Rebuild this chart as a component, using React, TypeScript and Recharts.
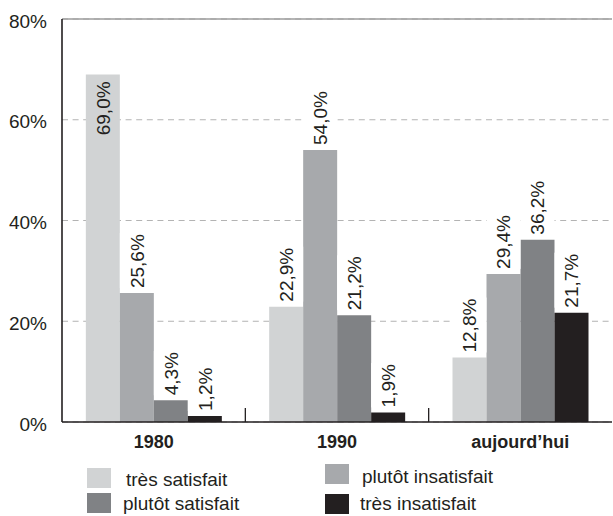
import React from 'react';
import { BarChart, Bar, XAxis, YAxis, CartesianGrid, ReferenceLine, LabelList } from 'recharts';

const categories = ['1980', '1990', 'aujourd’hui'];
const tresSatisfait = [69.0, 22.9, 12.8];
const plutotInsatisfait = [25.6, 54.0, 29.4];
const plutotSatisfait = [4.3, 21.2, 36.2];
const tresInsatisfait = [1.2, 1.9, 21.7];
const yTicks = [0, 20, 40, 60, 80];

const FONT = '"Liberation Sans", Arial, Helvetica, sans-serif';
const INK = '#231f20';

const series = [
  { key: 'tresSatisfait', name: 'très satisfait', color: '#d1d3d4' },
  { key: 'plutotInsatisfait', name: 'plutôt insatisfait', color: '#a7a9ac' },
  { key: 'plutotSatisfait', name: 'plutôt satisfait', color: '#808285' },
  { key: 'tresInsatisfait', name: 'très insatisfait', color: INK },
];

const data = categories.map((c, i) => ({
  category: c,
  tresSatisfait: tresSatisfait[i],
  plutotInsatisfait: plutotInsatisfait[i],
  plutotSatisfait: plutotSatisfait[i],
  tresInsatisfait: tresInsatisfait[i],
}));

const W = 613;
const H = 516;
const LEFT = 62;
const RIGHT_M = 1;
const BAND = (W - LEFT - RIGHT_M) / categories.length;

const fmt = (v: number) => v.toFixed(1).replace('.', ',') + '%';

const BarLabel = (props: any) => {
  const { x, y, width, value } = props;
  if (value == null) return null;
  const cx = Number(x) + Number(width) / 2;
  const v = Number(value);
  const inside = v > 65;
  const txt = fmt(v);
  const len = txt.length * 10.6;
  if (inside) {
    const ty = Number(y) + 7;
    return (
      <text
        transform={`translate(${cx},${ty}) rotate(-90)`}
        x={0}
        y={0}
        dy="0.36em"
        textAnchor="end"
        fontSize={19}
        fontFamily={FONT}
        fill={INK}
      >
        {txt}
      </text>
    );
  }
  const ty = Number(y) - 5;
  return (
    <g>
      <rect x={Number(x)} y={ty - len - 2} width={Number(width)} height={len + 2} fill="#ffffff" />
      <text
        transform={`translate(${cx},${ty}) rotate(-90)`}
        x={0}
        y={0}
        dy="0.36em"
        textAnchor="start"
        fontSize={19}
        fontFamily={FONT}
        fill={INK}
      >
        {txt}
      </text>
    </g>
  );
};

const XTick = (props: any) => {
  const { x, y, payload, index } = props;
  const axisY = Number(y) - 8;
  return (
    <g>
      {index > 0 && (
        <line x1={x - BAND / 2} x2={x - BAND / 2} y1={axisY - 14} y2={axisY} stroke={INK} strokeWidth={1.3} />
      )}
      <text x={x} y={y} dy={18} textAnchor="middle" fontSize={18} fontWeight="bold" fontFamily={FONT} fill={INK}>
        {payload.value}
      </text>
    </g>
  );
};

const YTick = (props: any) => {
  const { x, y, payload } = props;
  return (
    <text x={x} y={y} dy={8.7} textAnchor="end" fontSize={19} fontFamily={FONT} fill={INK}>
      {payload.value + '%'}
    </text>
  );
};

const legendItems = [
  { s: series[0], sx: 87, sy: 468, tx: 126, ty: 486 },
  { s: series[2], sx: 87, sy: 493, tx: 123, ty: 510 },
  { s: series[1], sx: 325, sy: 464, tx: 362, ty: 483 },
  { s: series[3], sx: 325, sy: 494, tx: 360, ty: 510 },
];

export default function App() {
  return (
    <div style={{ position: 'absolute', left: 0, top: 0, width: W, height: H, background: '#fff' }}>
      <BarChart
        width={W}
        height={H}
        data={data}
        margin={{ top: 19, right: RIGHT_M, bottom: 0, left: 0 }}
        barCategoryGap="13%"
        barGap={0}
      >
        <CartesianGrid vertical={false} stroke="#b3b3b3" strokeDasharray="6 4.6" />
        <ReferenceLine y={80} stroke="#9d9d9d" strokeWidth={1.6} />
        <XAxis
          dataKey="category"
          height={94}
          axisLine={{ stroke: INK, strokeWidth: 1.6 }}
          tickLine={false}
          tick={<XTick />}
          interval={0}
        />
        <YAxis
          width={LEFT}
          domain={[0, 80]}
          ticks={yTicks}
          axisLine={{ stroke: INK, strokeWidth: 1.6 }}
          tickLine={false}
          tickSize={6}
          tickMargin={9}
          tick={<YTick />}
        />
        {series.map((s) => (
          <Bar key={s.key} dataKey={s.key} name={s.name} fill={s.color} isAnimationActive={false}>
            <LabelList dataKey={s.key} content={<BarLabel />} />
          </Bar>
        ))}
      </BarChart>
      <svg width={W} height={H} style={{ position: 'absolute', left: 0, top: 0, pointerEvents: 'none' }}>
        {legendItems.map((it) => (
          <g key={it.s.key}>
            <rect x={it.sx} y={it.sy} width={24} height={20} fill={it.s.color} />
            <text x={it.tx} y={it.ty} fontSize={19} fontFamily={FONT} fill={INK}>
              {it.s.name}
            </text>
          </g>
        ))}
      </svg>
    </div>
  );
}
